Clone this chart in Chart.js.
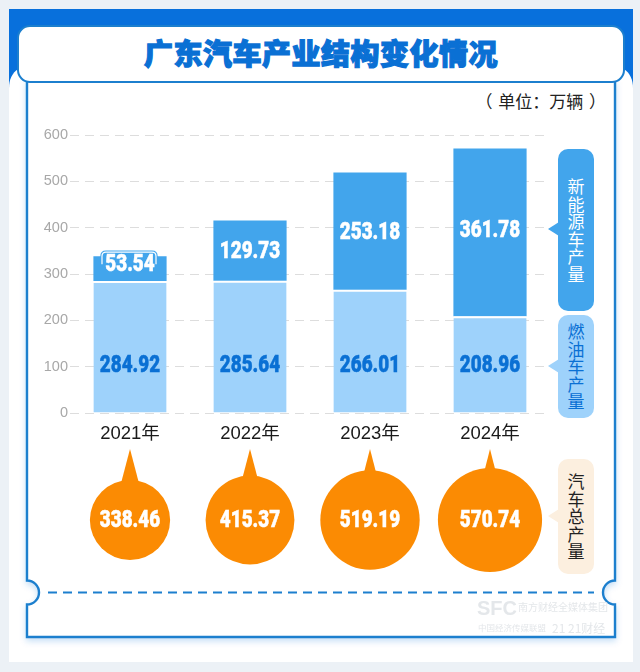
<!DOCTYPE html>
<html>
<head>
<meta charset="utf-8">
<script src="https://cdn.jsdelivr.net/npm/chart.js@4"></script>
<style>
html,body{margin:0;padding:0;width:640px;height:672px;overflow:hidden;background:#ecf1f6;font-family:"Noto Sans CJK SC",sans-serif}
#page{position:relative;width:640px;height:672px}
.abs{position:absolute}
#bg{left:0;top:0}
canvas{position:absolute;left:0}
#title{left:18px;top:26px;width:606px;height:56px;line-height:52px;text-align:center;color:#0a70d4;font-size:29px;font-weight:900;-webkit-text-stroke:1.2px #0a70d4;letter-spacing:.5px}
#unit{right:34px;top:88px;font-size:17px;color:#222;word-spacing:2px}
.tag{position:absolute;left:558px;width:36px;border-radius:10px;text-align:center;font-size:17px;line-height:17.5px;box-sizing:border-box;white-space:pre-line}
.tag i{position:absolute;left:-10px;width:0;height:0;border-top:7px solid transparent;border-bottom:7px solid transparent;border-right:11px solid}
.wm{position:absolute;color:#e4e7ea;white-space:nowrap}
</style>
</head>
<body>
<div id="page">
<svg id="bg" class="abs" width="640" height="672">
  <defs><filter id="sh" x="-5%" y="-5%" width="110%" height="110%"><feDropShadow dx="0" dy="3" stdDeviation="3" flood-color="#0a70d4" flood-opacity=".22"/></filter></defs>
  <rect x="9" y="9" width="624" height="110" fill="#0870dc"/>
  <path d="M9 88 C9 80 12 73 18 69 L624 69 C630 73 633 80 633 88 L633 662 L9 662Z" fill="#fff"/>
  <path d="M27 80 L27 580.500 A12 12 0 0 1 27 604.500 L27 637 L615 637 L615 604.500 A12 12 0 0 1 615 580.500 L615 80Z" fill="#fff" stroke="#1c7fce" stroke-width="2.400" filter="url(#sh)"/>
  <rect x="18" y="26" width="606" height="56" rx="12" fill="#fff" stroke="#1c7fce" stroke-width="2"/>
  <line x1="48" y1="592.500" x2="594" y2="592.500" stroke="#1c7fce" stroke-width="2.200" stroke-dasharray="9 6"/>
</svg>
<div id="title" class="abs">广东汽车产业结构变化情况</div>
<div id="unit" class="abs">（ 单位：万辆 ）</div>
<canvas id="barChart" style="top:120px" width="640" height="330"></canvas>
<canvas id="totalChart" style="top:440px" width="640" height="160"></canvas>
<div class="tag" style="top:149px;height:162px;background:#42a5ec;color:#fff;padding-top:28px">新
能
源
车
产
量<i style="top:73px;border-right-color:#42a5ec"></i></div>
<div class="tag" style="top:315px;height:103px;background:#9ed2fb;color:#0a70d4;padding-top:7px">燃
油
车
产
量<i style="top:44px;border-right-color:#9ed2fb"></i></div>
<div class="tag" style="top:459px;height:115px;background:#fcefdf;color:#222;padding-top:13px">汽
车
总
产
量<i style="top:50px;border-right-color:#fcefdf"></i></div>
<div class="wm" style="left:477px;top:597px;font-size:20px;font-weight:800;font-family:'Liberation Sans',sans-serif">SFC</div>
<div class="wm" style="left:518px;top:599px;font-size:10px">南方财经全媒体集团</div>
<div class="wm" style="left:478px;top:621px;font-size:8.500px">中国经济传媒联盟</div>
<div class="wm" style="left:552px;top:619px;font-size:12px">21 21财经</div>
</div>
<script>
const years = ['2021年','2022年','2023年','2024年'];
const fuelCars = [284.92,285.64,266.01,208.96];
const newEnergy = [53.54,129.73,253.18,361.78];
const totals = [338.46,415.37,519.19,570.74];
const yTicks = [0,100,200,300,400,500,600];
const BLUE_DARK='#42a5ec', BLUE_LIGHT='#9ed2fb', ORANGE='#fb8b03', LABEL_BLUE='#0a70d4';
const valueFont = '900 23px "Roboto","Noto Sans",sans-serif';

// the reference numbers use a narrow face, so squeeze Roboto sideways
function narrowText(ctx,text,x,y,color){
  ctx.save(); ctx.translate(x,y+2); ctx.scale(.82,1);
  ctx.font=valueFont; ctx.fillStyle=color; ctx.strokeStyle=color; ctx.lineWidth=.5;
  ctx.textAlign='center'; ctx.textBaseline='middle';
  ctx.fillText(text,0,0); ctx.strokeText(text,0,0); ctx.restore();
}

const barLabels = { id:'barLabels', afterDatasetsDraw(c){
  const ctx=c.ctx, yScale=c.scales.y;
  c.getDatasetMeta(0).data.forEach((b,i)=>{
    narrowText(ctx,fuelCars[i].toFixed(2),b.x,yScale.getPixelForValue(105),LABEL_BLUE);
  });
  c.getDatasetMeta(1).data.forEach((b,i)=>{
    let y=(b.y+b.base)/2;
    if(i==0){
      // small segment: label tab sticks out above the bar, blue edge with white line inside
      y=b.y+7;
      ctx.beginPath();
      ctx.moveTo(b.x-28,b.y+8); ctx.lineTo(b.x-28,b.y);
      ctx.quadraticCurveTo(b.x-28,b.y-4,b.x-24,b.y-4);
      ctx.lineTo(b.x+22,b.y-4);
      ctx.quadraticCurveTo(b.x+26,b.y-4,b.x+26,b.y);
      ctx.lineTo(b.x+26,b.y+8);
      ctx.fillStyle=BLUE_DARK; ctx.fill();
      ctx.strokeStyle=BLUE_DARK; ctx.lineWidth=3.4; ctx.stroke();
      ctx.strokeStyle='#fff'; ctx.lineWidth=1.2; ctx.stroke();
    }
    if(i==3) y-=3;
    narrowText(ctx,newEnergy[i].toFixed(2),b.x,y,'#fff');
  });
}};

new Chart(document.getElementById('barChart'),{
  type:'bar',
  data:{labels:years,datasets:[
    {label:'燃油车产量',data:fuelCars,backgroundColor:BLUE_LIGHT,borderColor:'#fff',borderWidth:{top:2},stack:'s'},
    {label:'新能源车产量',data:newEnergy,backgroundColor:BLUE_DARK,stack:'s'}
  ]},
  options:{
    responsive:false,animation:false,events:[],
    layout:{padding:{left:0,right:90,top:15,bottom:0}},
    plugins:{legend:{display:false},tooltip:{enabled:false}},
    datasets:{bar:{barPercentage:.61,categoryPercentage:1}},
    scales:{
      x:{stacked:true,grid:{display:false},border:{display:false},afterFit(a){a.height=37},
         ticks:{color:'#1a1a1a',font:{size:18.5,family:'"Liberation Sans","Noto Sans CJK SC",sans-serif'},padding:2}},
      y:{stacked:true,min:0,max:600,afterBuildTicks(a){a.ticks=yTicks.map(v=>({value:v}))},
         afterFit(a){a.width=70},
         grid:{color:'#dddddd',drawTicks:false,lineWidth:1},
         border:{display:false,dash:[9,6]},
         ticks:{color:'#a8a8a8',padding:2,font:{size:14.5,family:'"Liberation Sans",sans-serif'}}}
    }
  },
  plugins:[barLabels]
});

// tail on top of each total bubble, always pointing up to the same height
const bubbleParts = { id:'bubbleParts', afterDatasetsDraw(c){
  const ctx=c.ctx;
  c.getDatasetMeta(0).data.forEach((p,i)=>{
    const r=p.options.radius, top=p.y-r, half=(top-9)*.28;
    ctx.fillStyle=ORANGE; ctx.beginPath();
    ctx.moveTo(p.x-half,top+2); ctx.lineTo(p.x,9); ctx.lineTo(p.x+half,top+2); ctx.closePath(); ctx.fill();
    narrowText(ctx,totals[i].toFixed(2),p.x,p.y-1,'#fff');
  });
}};

new Chart(document.getElementById('totalChart'),{
  type:'bubble',
  data:{labels:years,datasets:[{
    data:totals.map((v,i)=>({x:years[i],y:0,r:2.18*Math.sqrt(v)})),
    backgroundColor:ORANGE,borderWidth:0,clip:false
  }]},
  options:{
    responsive:false,animation:false,events:[],
    layout:{padding:{left:70,right:90,top:0,bottom:0}},
    plugins:{legend:{display:false},tooltip:{enabled:false}},
    scales:{
      x:{type:'category',labels:years,display:false,offset:true},
      y:{min:-1,max:1,display:false}
    }
  },
  plugins:[bubbleParts]
});
</script>
</body>
</html>
